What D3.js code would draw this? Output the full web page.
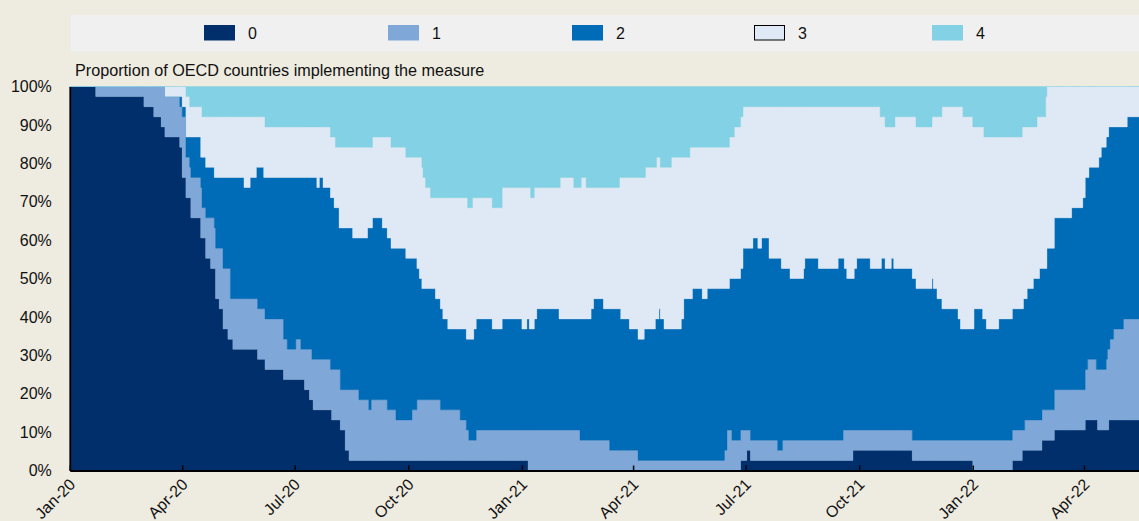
<!DOCTYPE html>
<html><head><meta charset="utf-8">
<script src="https://cdn.jsdelivr.net/npm/d3@7"></script>
<style>
html,body{margin:0;padding:0;background:#EEEBE0;}
svg{display:block;font-family:"Liberation Sans",Arial,sans-serif;}
</style></head><body>
<svg id="chart" width="1139" height="521"></svg>
<script>
// ---------------- DATA ----------------
const totalCountries = 38;
const seriesKeys = ["0", "1", "2", "3", "4"];
const seriesColors = ["#002F6C", "#7FA8D9", "#006BB6", "#DEE9F5", "#83D1E4"];
const chartTitle = "Proportion of OECD countries implementing the measure";
const yTickValues = [0, 0.1, 0.2, 0.3, 0.4, 0.5, 0.6, 0.7, 0.8, 0.9, 1];
const yTickLabels = ["0%", "10%", "20%", "30%", "40%", "50%", "60%", "70%", "80%", "90%", "100%"];
const xTickDates = ["2020-01-01", "2020-04-01", "2020-07-01", "2020-10-01", "2021-01-01", "2021-04-01", "2021-07-01", "2021-10-01", "2022-01-01", "2022-04-01"];
const xTickLabels = ["Jan-20", "Apr-20", "Jul-20", "Oct-20", "Jan-21", "Apr-21", "Jul-21", "Oct-21", "Jan-22", "Apr-22"];
const startDate = "2020-01-01";
const endDate = "2022-05-17";

// number of countries at each level; each entry = [date of change, count]
const count0 = [["2020-01-01",38],["2020-01-22",37],["2020-03-01",36],["2020-03-09",35],["2020-03-15",34],["2020-03-18",33],["2020-03-30",32],["2020-04-01",29],["2020-04-04",27],["2020-04-08",25],["2020-04-16",23],["2020-04-20",21],["2020-04-24",20],["2020-04-28",17],["2020-05-01",16],["2020-05-04",14],["2020-05-08",13],["2020-05-12",12],["2020-06-01",11],["2020-06-07",10],["2020-06-22",9],["2020-07-09",8],["2020-07-13",7],["2020-07-16",6],["2020-07-31",5],["2020-08-07",4],["2020-08-11",2],["2020-08-14",1],["2021-01-06",0],["2021-06-27",1],["2021-07-02",2],["2021-07-05",1],["2021-09-26",2],["2021-11-13",1],["2022-01-01",0],["2022-02-02",1],["2022-02-10",2],["2022-02-26",3],["2022-03-08",4],["2022-04-02",5],["2022-04-12",4],["2022-04-21",5]];

const count1 = [["2020-01-01",0],["2020-01-22",1],["2020-03-01",2],["2020-03-09",3],["2020-03-15",4],["2020-04-01",6],["2020-04-04",4],["2020-04-07",3],["2020-04-08",4],["2020-04-16",5],["2020-04-17",3],["2020-04-20",4],["2020-04-24",5],["2020-04-27",4],["2020-04-28",5],["2020-05-01",6],["2020-05-08",7],["2020-05-10",4],["2020-05-12",5],["2020-06-22",4],["2020-06-25",3],["2020-07-02",4],["2020-07-06",3],["2020-07-09",4],["2020-07-13",5],["2020-07-15",4],["2020-07-16",5],["2020-07-30",4],["2020-07-31",5],["2020-08-07",4],["2020-08-11",6],["2020-08-14",7],["2020-08-22",6],["2020-08-30",5],["2020-09-01",6],["2020-09-14",5],["2020-09-21",4],["2020-10-04",5],["2020-10-08",6],["2020-10-27",5],["2020-11-12",4],["2020-11-17",3],["2020-11-19",2],["2020-11-25",3],["2021-01-06",4],["2021-02-17",3],["2021-03-13",2],["2021-04-05",1],["2021-06-14",2],["2021-06-16",4],["2021-06-20",3],["2021-07-02",2],["2021-07-27",1],["2021-07-31",2],["2021-09-18",3],["2021-09-26",2],["2022-01-01",3],["2022-02-10",2],["2022-02-12",3],["2022-03-08",4],["2022-04-02",5],["2022-04-04",6],["2022-04-11",5],["2022-04-12",6],["2022-04-19",7],["2022-04-20",8],["2022-04-21",7],["2022-04-22",8],["2022-04-25",9],["2022-05-03",10]];

const count2 = [["2020-01-01",0],["2020-03-30",1],["2020-04-04",2],["2020-04-07",3],["2020-04-08",4],["2020-04-16",3],["2020-04-17",5],["2020-04-28",7],["2020-05-04",9],["2020-05-10",12],["2020-05-21",11],["2020-05-26",12],["2020-05-31",13],["2020-06-01",14],["2020-06-06",13],["2020-06-07",14],["2020-06-22",16],["2020-06-25",17],["2020-07-02",16],["2020-07-06",17],["2020-07-15",18],["2020-07-19",17],["2020-07-21",18],["2020-07-24",17],["2020-08-02",16],["2020-08-06",14],["2020-08-07",16],["2020-08-17",15],["2020-08-22",16],["2020-08-29",17],["2020-08-30",18],["2020-09-01",17],["2020-09-02",18],["2020-09-10",17],["2020-09-17",16],["2020-09-21",17],["2020-09-29",16],["2020-10-04",15],["2020-10-08",13],["2020-10-10",12],["2020-10-12",11],["2020-10-23",10],["2020-10-29",9],["2020-11-02",8],["2020-11-12",9],["2020-11-19",10],["2020-11-23",11],["2020-12-08",10],["2020-12-16",11],["2021-01-01",10],["2021-01-05",11],["2021-01-07",10],["2021-01-11",11],["2021-01-13",12],["2021-01-31",11],["2021-02-17",12],["2021-02-26",13],["2021-02-28",14],["2021-03-08",13],["2021-03-13",14],["2021-03-22",13],["2021-03-29",12],["2021-04-10",13],["2021-04-19",14],["2021-04-22",15],["2021-04-23",14],["2021-04-26",13],["2021-05-10",14],["2021-05-12",16],["2021-05-19",17],["2021-05-27",16],["2021-05-31",17],["2021-06-14",16],["2021-06-16",14],["2021-06-18",15],["2021-06-20",16],["2021-06-29",18],["2021-07-05",19],["2021-07-07",20],["2021-07-11",19],["2021-07-14",20],["2021-07-20",18],["2021-07-27",19],["2021-07-30",18],["2021-07-31",17],["2021-08-06",16],["2021-08-17",17],["2021-08-18",18],["2021-08-29",17],["2021-09-14",18],["2021-09-18",17],["2021-09-19",16],["2021-09-21",15],["2021-09-27",16],["2021-09-29",17],["2021-10-10",16],["2021-10-19",17],["2021-10-22",16],["2021-10-27",17],["2021-10-29",16],["2021-11-16",15],["2021-11-29",16],["2021-11-30",15],["2021-12-03",14],["2021-12-07",13],["2021-12-20",12],["2021-12-22",11],["2022-01-02",13],["2022-01-09",12],["2022-01-12",11],["2022-01-22",12],["2022-02-11",13],["2022-02-12",12],["2022-02-14",13],["2022-02-19",14],["2022-02-24",15],["2022-02-26",14],["2022-03-02",16],["2022-03-08",17],["2022-03-22",18],["2022-03-31",19],["2022-04-04",18],["2022-04-05",19],["2022-04-11",20],["2022-04-13",21],["2022-04-15",22],["2022-04-20",21],["2022-04-21",22],["2022-04-22",21],["2022-04-25",20],["2022-05-03",19],["2022-05-06",20]];

const count3 = [["2020-01-01",0],["2020-03-18",1],["2020-04-01",2],["2020-04-04",4],["2020-04-07",3],["2020-04-16",5],["2020-04-17",4],["2020-04-20",5],["2020-04-27",6],["2020-05-21",7],["2020-05-26",6],["2020-05-31",5],["2020-06-06",6],["2020-06-07",5],["2020-07-19",6],["2020-07-21",5],["2020-07-24",6],["2020-08-02",7],["2020-08-03",6],["2020-08-06",8],["2020-08-17",9],["2020-08-29",8],["2020-09-10",9],["2020-09-14",10],["2020-10-08",11],["2020-10-10",12],["2020-10-13",11],["2020-10-15",10],["2020-10-19",9],["2020-10-23",10],["2020-10-27",11],["2020-10-29",12],["2020-11-02",13],["2020-11-17",14],["2020-11-18",13],["2020-11-22",14],["2020-11-23",13],["2020-11-25",12],["2020-12-16",13],["2021-01-01",14],["2021-01-05",13],["2021-01-07",14],["2021-01-08",13],["2021-01-13",12],["2021-01-31",13],["2021-02-01",14],["2021-02-12",13],["2021-02-18",14],["2021-02-22",13],["2021-02-26",12],["2021-02-28",11],["2021-03-08",12],["2021-03-21",13],["2021-03-22",14],["2021-03-29",15],["2021-04-05",16],["2021-04-10",15],["2021-04-11",16],["2021-04-19",15],["2021-04-20",16],["2021-04-22",15],["2021-04-26",16],["2021-05-02",17],["2021-05-10",16],["2021-05-12",14],["2021-05-17",15],["2021-05-19",14],["2021-05-27",15],["2021-05-31",14],["2021-06-22",15],["2021-06-29",14],["2021-07-07",13],["2021-07-11",14],["2021-07-14",13],["2021-07-20",15],["2021-07-30",16],["2021-08-06",17],["2021-08-17",16],["2021-08-18",15],["2021-08-29",16],["2021-09-14",15],["2021-09-19",16],["2021-09-21",17],["2021-09-27",16],["2021-09-29",15],["2021-10-10",16],["2021-10-18",15],["2021-10-19",14],["2021-10-27",13],["2021-10-29",14],["2021-10-30",15],["2021-11-13",16],["2021-11-30",17],["2021-12-03",18],["2021-12-07",20],["2021-12-20",21],["2021-12-22",22],["2021-12-24",21],["2022-01-01",20],["2022-01-02",18],["2022-01-09",19],["2022-01-10",18],["2022-01-12",19],["2022-01-22",18],["2022-02-02",17],["2022-02-10",18],["2022-02-11",17],["2022-02-14",16],["2022-02-19",15],["2022-02-22",16],["2022-02-24",15],["2022-03-01",17],["2022-03-02",16],["2022-03-08",13],["2022-03-22",12],["2022-03-31",11],["2022-04-02",9],["2022-04-05",8],["2022-04-13",7],["2022-04-15",6],["2022-04-19",5],["2022-04-21",4],["2022-05-06",3]];

const count4 = [["2020-01-01",0],["2020-04-04",1],["2020-04-07",2],["2020-04-17",3],["2020-06-07",4],["2020-07-30",5],["2020-08-03",6],["2020-09-02",5],["2020-09-17",6],["2020-09-29",7],["2020-10-12",8],["2020-10-13",9],["2020-10-15",10],["2020-10-19",11],["2020-11-18",12],["2020-11-22",11],["2020-12-08",12],["2020-12-16",10],["2021-01-08",11],["2021-01-11",10],["2021-02-01",9],["2021-02-12",10],["2021-02-18",9],["2021-02-22",10],["2021-03-21",9],["2021-04-11",8],["2021-04-20",7],["2021-04-23",8],["2021-05-02",7],["2021-05-17",6],["2021-06-18",5],["2021-06-22",4],["2021-06-27",3],["2021-06-29",2],["2021-10-18",3],["2021-10-22",4],["2021-10-30",3],["2021-11-16",4],["2021-11-29",3],["2021-12-07",2],["2021-12-24",3],["2022-01-01",4],["2022-01-10",5],["2022-02-10",4],["2022-02-22",3],["2022-03-01",1],["2022-03-02",0]];

// ---------------- BUILD TABLE ----------------
const seriesCounts = [count0, count1, count2, count3, count4];
const parse = d3.utcParse("%Y-%m-%d");
const dateSet = new Set();
seriesCounts.forEach(s => s.forEach(([d]) => dateSet.add(d)));
const dates = Array.from(dateSet).sort();
const rows = dates.map(ds => {
  const row = { date: parse(ds) };
  seriesCounts.forEach((s, i) => {
    let v = 0;
    for (const [d, c] of s) { if (d <= ds) v = c; else break; }
    row[seriesKeys[i]] = v / totalCountries;
  });
  return row;
});
rows.push(Object.assign({}, rows[rows.length - 1], { date: parse(endDate) }));

// ---------------- CHART ----------------
const svg = d3.select("#chart");
const W = 1139, H = 521;
const plot = { left: 69.8, right: 1140.8, top: 86.5, bottom: 470.5 };
const legendX = [204, 388, 572, 754, 932];

svg.append("rect").attr("width", W).attr("height", H).attr("fill", "#EEEBE0");

const x = d3.scaleUtc().domain([parse(startDate), parse(endDate)]).range([plot.left, plot.right]);
const y = d3.scaleLinear().domain([0, 1]).range([plot.bottom, plot.top]);

const stack = d3.stack().keys(seriesKeys);
const layers = stack(rows);

const area = d3.area()
  .curve(d3.curveStepAfter)
  .x(d => x(d.data.date))
  .y0(d => y(d[0]))
  .y1(d => y(d[1]));

svg.append("defs").append("clipPath").attr("id", "clip")
  .append("rect").attr("x", plot.left).attr("y", plot.top - 1)
  .attr("width", W - plot.left).attr("height", plot.bottom - plot.top + 1);

svg.append("g").attr("clip-path", "url(#clip)")
  .selectAll("path").data(layers).join("path")
  .attr("d", area)
  .attr("fill", (d, i) => seriesColors[i])
  .attr("stroke", (d, i) => seriesColors[i])
  .attr("stroke-width", 0.4);

// Legend
svg.append("rect").attr("x", 71).attr("y", 15).attr("width", W - 71).attr("height", 36.5).attr("fill", "#F0F0F0");
const legend = svg.append("g").selectAll("g").data(seriesKeys).join("g")
  .attr("transform", (d, i) => `translate(${legendX[i]},25)`);
legend.append("rect")
  .attr("x", (d, i) => i === 3 ? 0.5 : 0).attr("y", (d, i) => i === 3 ? 0.5 : 0)
  .attr("width", (d, i) => i === 3 ? 30 : 31).attr("height", (d, i) => i === 3 ? 14.5 : 15.5)
  .attr("fill", (d, i) => seriesColors[i])
  .attr("stroke", (d, i) => i === 3 ? "#000" : "none")
  .attr("stroke-width", 1);
legend.append("text").attr("x", 44).attr("y", 8).attr("dy", "0.35em")
  .attr("font-size", 16).attr("fill", "#111").text(d => d);

// Title
svg.append("text").attr("x", 75).attr("y", 76).attr("font-size", 16.2).attr("fill", "#111").text(chartTitle);

// Y axis
const yAxis = d3.axisLeft(y).tickValues(yTickValues)
  .tickFormat((d, i) => yTickLabels[i]).tickSize(0).tickPadding(18);
const gy = svg.append("g").attr("transform", `translate(${plot.left},0)`).call(yAxis);
gy.select(".domain").attr("stroke", "#000").attr("stroke-width", 1.8);
gy.selectAll("text").attr("font-size", 16).attr("fill", "#111").attr("font-family", "Liberation Sans, Arial, sans-serif");

// X axis
const xAxis = d3.axisBottom(x).tickValues(xTickDates.map(parse))
  .tickFormat((d, i) => xTickLabels[i]).tickSizeInner(-5).tickSizeOuter(0);
const gx = svg.append("g").attr("transform", `translate(0,${plot.bottom})`).call(xAxis);
gx.select(".domain").attr("stroke", "#000").attr("stroke-width", 1.8);
gx.selectAll(".tick line").attr("stroke", "#000").attr("stroke-width", 1.5);
gx.selectAll("text")
  .attr("font-size", 16).attr("fill", "#111").attr("font-family", "Liberation Sans, Arial, sans-serif")
  .attr("text-anchor", "end")
  .attr("transform", "translate(2,11) rotate(-45)")
  .attr("y", 0).attr("x", 0).attr("dy", "0.35em");
</script>
</body></html>
